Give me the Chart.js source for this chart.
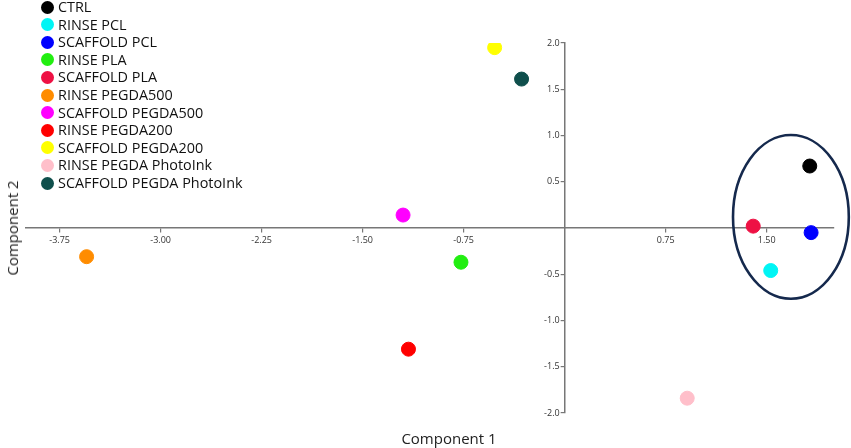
<!DOCTYPE html>
<html>
<head>
<meta charset="utf-8">
<script src="https://cdn.jsdelivr.net/npm/chart.js@4/dist/chart.umd.min.js"></script>
<style>
body{margin:0;background:#fff;}
#wrap{position:relative;width:851px;height:448px;}
#legend{position:absolute;left:0;top:0;font-family:'Open Sans';font-size:14.4px;color:#111;}
.row{position:absolute;left:58px;white-space:nowrap;line-height:16px;}
.dot{position:absolute;left:-17px;top:1.5px;width:13px;height:13px;border-radius:50%;}
.title{position:absolute;font-family:'Open Sans';font-size:15px;color:#222;white-space:nowrap;}
</style>
</head>
<body>
<div id="wrap">
  <canvas id="myChart" width="851" height="448"></canvas>
  <div id="legend"></div>
  <div class="title" style="left:449px;top:438px;transform:translate(-50%,-50%);">Component 1</div>
  <div class="title" style="left:12px;top:228px;transform:translate(-50%,-50%) rotate(-90deg);">Component 2</div>
</div>
<script>
var categories = ['CTRL', 'RINSE PCL', 'SCAFFOLD PCL', 'RINSE PLA', 'SCAFFOLD PLA', 'RINSE PEGDA500',
                  'SCAFFOLD PEGDA500', 'RINSE PEGDA200', 'SCAFFOLD PEGDA200', 'RINSE PEGDA PhotoInk', 'SCAFFOLD PEGDA PhotoInk'];
var comp1 = [1.82, 1.53, 1.83, -0.77, 1.40, -3.55, -1.20, -1.16, -0.52, 0.91, -0.32];
var comp2 = [0.67, -0.46, -0.05, -0.37, 0.02, -0.31, 0.14, -1.31, 1.95, -1.84, 1.61];
var colors = ['#000000', '#00f5f5', '#0000ff', '#22ee11', '#ee1144', '#ff8c00',
              '#ff00ff', '#ff0000', '#ffff00', '#ffbfca', '#0f4f4c'];
var xTicks = [-3.75, -3.00, -2.25, -1.50, -0.75, 0.75, 1.50];
var yTicks = [-2.0, -1.5, -1.0, -0.5, 0.5, 1.0, 1.5, 2.0];

// circled cluster, in data units
var ring = {x: 1.68, y: 0.12, rx: 0.43, ry: 0.885};

var datasets = categories.map(function(name, i){
	return {
		label: name,
		data: [{x: comp1[i], y: comp2[i]}],
		backgroundColor: colors[i],
		borderColor: colors[i],
		pointRadius: 7,
		pointHoverRadius: 7
	};
});

var legend = document.getElementById('legend');
categories.forEach(function(name, i){
	var row = document.createElement('div');
	row.className = 'row';
	row.style.top = (7 + i * 17.6 - 8) + 'px';
	row.textContent = name;
	var dot = document.createElement('span');
	dot.className = 'dot';
	dot.style.background = colors[i];
	row.appendChild(dot);
	legend.appendChild(row);
});

// move the y axis box so its right edge sits on x = 0
var crossPlugin = {
	id: 'cross',
	afterLayout: function(chart){
		var ys = chart.scales.y;
		var px = chart.scales.x.getPixelForValue(0);
		ys.left = px - 40;
		ys.right = px;
		ys.width = 40;
	}
};

var ringPlugin = {
	id: 'ring',
	afterDatasetsDraw: function(chart){
		var c = chart.ctx, xs = chart.scales.x, ys = chart.scales.y;
		var cx = xs.getPixelForValue(ring.x), cy = ys.getPixelForValue(ring.y);
		var rx = Math.abs(xs.getPixelForValue(ring.x + ring.rx) - cx);
		var ry = Math.abs(ys.getPixelForValue(ring.y + ring.ry) - cy);
		c.save();
		c.beginPath();
		c.ellipse(cx, cy, rx, ry, 0, 0, Math.PI * 2);
		c.strokeStyle = '#15294d';
		c.lineWidth = 2.6;
		c.stroke();
		c.restore();
	}
};

var tickFont = {family: 'Open Sans', size: 9};

var myChart = new Chart(document.getElementById('myChart'), {
	type: 'scatter',
	data: {datasets: datasets},
	options: {
		responsive: false,
		animation: false,
		layout: {padding: {left: 26, right: 17, top: 43, bottom: 35}},
		plugins: {legend: {display: false}, tooltip: {enabled: false}},
		scales: {
			x: {
				type: 'linear', min: -4, max: 2, position: {y: 0},
				afterFit: function(s){ s.height = 0; },
				afterBuildTicks: function(s){ s.ticks = xTicks.map(function(v){ return {value: v}; }); },
				grid: {drawOnChartArea: false, drawTicks: true, tickLength: 4, color: '#777', lineWidth: 1.2},
				border: {color: '#777', width: 1.5},
				ticks: {font: tickFont, color: '#333', padding: 3, maxRotation: 0, autoSkip: false,
					callback: function(v){ return v.toFixed(2); }}
			},
			y: {
				type: 'linear', min: -2, max: 2, position: 'left',
				afterFit: function(s){ s.width = 0; },
				afterBuildTicks: function(s){ s.ticks = yTicks.map(function(v){ return {value: v}; }); },
				grid: {drawOnChartArea: false, drawTicks: true, tickLength: 4, color: '#777', lineWidth: 1.2},
				border: {color: '#777', width: 1.5},
				ticks: {font: tickFont, color: '#333', padding: 1, autoSkip: false,
					callback: function(v){ return v.toFixed(1); }}
			}
		}
	},
	plugins: [crossPlugin, ringPlugin]
});
</script>
</body>
</html>
